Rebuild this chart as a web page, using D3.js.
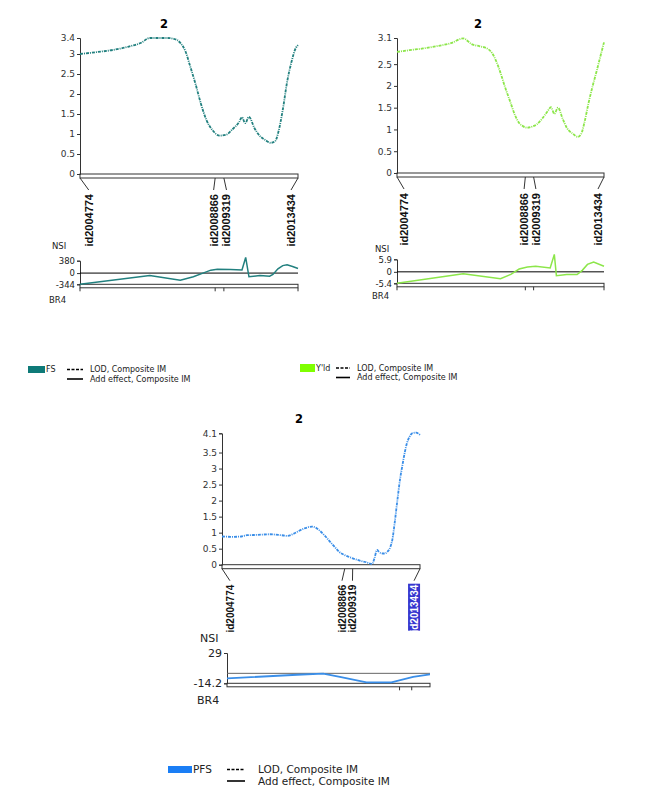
<!DOCTYPE html>
<html>
<head>
<meta charset="utf-8">
<script src="https://cdn.jsdelivr.net/npm/d3@7/dist/d3.min.js"></script>
<style>
  body { margin: 0; background: #fff; }
  text { fill: #222; }
</style>
</head>
<body>
<svg id="chart" width="647" height="797"></svg>
<script>
// marker names and their positions along the linkage group (percent of length)
const markers = ["id2004774", "id2008866", "id2009319", "id2013434"];
const markerPos = [0, 62, 66, 100];
const labelPos = [4, 61.3, 67.2, 96.8];

// FS trait
const fsLodPos = [0, 8, 15, 22, 28, 32, 40, 43, 46, 48.5, 50.5, 53, 55.5, 58, 61, 64, 67, 70, 73, 74.3, 75.8, 77.5, 80, 82.5, 85, 87.5, 89.5, 91, 93, 95, 97, 99, 100];
const fsLod    = [3.0, 3.05, 3.1, 3.18, 3.28, 3.4, 3.4, 3.38, 3.28, 3.05, 2.7, 2.25, 1.75, 1.35, 1.08, 0.96, 0.98, 1.12, 1.3, 1.42, 1.27, 1.43, 1.15, 0.95, 0.85, 0.78, 0.82, 1.05, 1.6, 2.3, 2.8, 3.15, 3.22];
const fsEffPos = [0, 32, 46, 52, 56.4, 60, 63, 69, 74.3, 76, 77.5, 82.5, 87, 88.5, 90.8, 93, 95, 97.5, 100];
const fsEff    = [-344, -76, -217, -110, 0, 90, 120, 113, 93, 480, -113, -76, -96, -40, 130, 230, 253, 200, 141];
const fsLodTicks = [0, 0.5, 1, 1.5, 2, 2.5, 3, 3.4];
const fsEffTicks = [-344, 0, 380];

// Y'ld trait
const yldLodPos = [0, 6, 12.6, 20, 26, 32, 36, 40, 43.5, 46, 48, 50, 52, 54.6, 57, 59, 61, 63, 65.5, 67.6, 70, 72.5, 74.4, 76, 77.8, 80, 82, 85, 87.4, 89, 90.5, 92.5, 94.7, 96.5, 98, 100];
const yldLod    = [2.78, 2.82, 2.86, 2.92, 2.98, 3.09, 2.96, 2.91, 2.86, 2.75, 2.56, 2.3, 2.0, 1.65, 1.33, 1.15, 1.07, 1.04, 1.07, 1.12, 1.24, 1.4, 1.51, 1.36, 1.5, 1.25, 1.04, 0.9, 0.83, 0.9, 1.15, 1.6, 2.03, 2.35, 2.63, 3.0];
const yldEffPos = [0, 32, 50, 55, 59, 63, 67, 74, 76, 77, 82, 87, 89.5, 92, 95, 100];
const yldEff    = [-5.4, -0.9, -3.2, -1.2, 1.3, 2.3, 2.6, 1.8, 8.2, -1.8, -1.3, -1.3, 0.7, 3.5, 4.6, 2.6];
const yldLodTicks = [0, 0.5, 1, 1.5, 2, 2.5, 3.1];
const yldEffTicks = [-5.4, 0, 5.9];

// PFS trait
const pfsLodPos = [0, 5, 9, 12.6, 18, 24, 30, 33, 36, 39, 42, 45.5, 47.5, 49, 52, 54.5, 57, 59, 62, 66, 70, 73, 75.8, 77, 78.3, 79.3, 80.3, 82, 83.5, 85, 86, 87.2, 88.4, 90, 91, 92.3, 93.4, 94.8, 96, 98, 100];
const pfsLod    = [0.88, 0.87, 0.875, 0.92, 0.93, 0.95, 0.92, 0.9, 0.96, 1.06, 1.14, 1.19, 1.15, 1.08, 0.9, 0.72, 0.55, 0.41, 0.3, 0.2, 0.12, 0.075, 0.02, 0.2, 0.46, 0.4, 0.36, 0.35, 0.4, 0.55, 0.77, 1.3, 1.92, 2.7, 3.06, 3.5, 3.79, 4.0, 4.1, 4.12, 4.05];
const pfsEffPos = [0, 34.5, 47.4, 55.6, 68.7, 81, 91.7, 100];
const pfsEff    = [-7.2, -2, -0.5, -4.9, -13, -13, -4.9, -1.4];
const pfsLodTicks = [0, 0.5, 1, 1.5, 2, 2.5, 3, 3.5, 4.1];
const pfsEffTicks = [-14.2, 29];
const pfsBarTicks = [85, 91];

const svg = d3.select('#chart');
svg.append('rect').attr('width', 647).attr('height', 797).attr('fill', '#fff');

let drawPanel = function (svg, p) {
    let g = svg.append('g');
    let x = d3.scaleLinear().domain([0, 100]).range([p.x0, p.x1]);
    let y = d3.scaleLinear().domain([0, p.lodMax]).range([p.y0, p.yTop]);

    // title
    g.append('text')
        .attr('x', p.titleX).attr('y', p.yTop - 10)
        .attr('text-anchor', 'middle')
        .style('font', 'bold 11.5px "DejaVu Sans"')
        .style('fill', '#000')
        .text('2');

    // LOD y axis
    let ax = g.append('g')
        .attr('transform', `translate(${p.x0},0)`)
        .call(d3.axisLeft(y).tickValues(p.lodTicks).tickSize(3).tickSizeOuter(3).tickFormat(d => d));
    ax.selectAll('path, line').attr('stroke', '#333');
    ax.selectAll('text').attr('x', -5).style('font', '9px "DejaVu Sans"').style('fill', '#333');

    // chromosome bar under the LOD plot
    g.append('rect')
        .attr('x', p.x0).attr('y', p.y0)
        .attr('width', p.x1 - p.x0).attr('height', 4)
        .attr('fill', 'none').attr('stroke', '#333');

    // marker leaders and labels
    let lab = g.append('g');
    markers.forEach(function (m, i) {
        let lx = x(p.labelPos[i]);
        lab.append('line')
            .attr('x1', x(markerPos[i])).attr('y1', p.y0 + 4)
            .attr('x2', lx).attr('y2', p.y0 + 16)
            .attr('stroke', '#333');
        if (i === p.highlight) {
            lab.append('rect')
                .attr('x', lx - 6).attr('y', p.y0 + 19)
                .attr('width', 12).attr('height', p.labelLen)
                .attr('fill', '#3636cf');
        }
        lab.append('text')
            .attr('transform', `translate(${lx},${p.y0 + 20}) rotate(-90)`)
            .attr('dy', '0.36em')
            .attr('text-anchor', 'end')
            .style('font', `bold ${p.labelFont}px "Liberation Sans"`)
            .style('fill', i === p.highlight ? '#fff' : '#111')
            .text(m);
    });

    // LOD curve
    g.append('path')
        .datum(d3.zip(p.lodPos, p.lod))
        .attr('fill', 'none')
        .attr('stroke', p.color)
        .attr('stroke-width', 1.8)
        .attr('stroke-dasharray', '3,1,1,1')
        .attr('d', d3.line().x(d => x(d[0])).y(d => y(d[1])).curve(d3.curveMonotoneX));

    // additive effect panel
    let ex = d3.scaleLinear().domain([0, 100]).range([p.ex0, p.ex1]);
    let ey = d3.scaleLinear().domain([p.effMin, p.effMax]).range([p.eyBot, p.eyTop]);

    g.append('text')
        .attr('x', p.nsiX).attr('y', p.eyTop - p.nsiGap)
        .style('font', `${p.smallFont}px "DejaVu Sans"`)
        .text('NSI');
    g.append('text')
        .attr('x', p.nsiX - 3).attr('y', p.eyBot + p.br4Gap)
        .style('font', `${p.smallFont}px "DejaVu Sans"`)
        .text('BR4');

    let eax = g.append('g')
        .attr('transform', `translate(${p.ex0},0)`)
        .call(d3.axisLeft(ey).tickValues(p.effTicks).tickSize(3).tickSizeOuter(3).tickFormat(d => d));
    eax.selectAll('path, line').attr('stroke', '#333');
    eax.selectAll('text').attr('x', -5).style('font', `${p.smallFont}px "DejaVu Sans"`).style('fill', '#222');

    g.append('line')
        .attr('x1', p.ex0).attr('x2', p.ex1)
        .attr('y1', ey(0)).attr('y2', ey(0))
        .attr('stroke', p.zeroColor);
    g.append('rect')
        .attr('x', p.ex0).attr('y', p.eyBot)
        .attr('width', p.ex1 - p.ex0).attr('height', 3.5)
        .attr('fill', 'none').attr('stroke', '#333');
    g.selectAll(null)
        .data(p.barTicks)
        .enter().append('line')
        .attr('x1', d => ex(d)).attr('x2', d => ex(d))
        .attr('y1', p.eyBot + 3.5).attr('y2', p.eyBot + 7)
        .attr('stroke', '#333');

    g.append('path')
        .datum(d3.zip(p.effPos, p.eff))
        .attr('fill', 'none')
        .attr('stroke', p.color)
        .attr('stroke-width', p.effWidth)
        .attr('d', d3.line().x(d => ex(d[0])).y(d => ey(d[1])));

    // legend
    let L = p.legend;
    let lg = svg.append('g').style('font', `${L.fs}px "DejaVu Sans"`);
    lg.append('rect')
        .attr('x', L.x).attr('y', L.y - L.sh / 2)
        .attr('width', L.sw).attr('height', L.sh)
        .attr('fill', p.swatch);
    lg.append('text').attr('x', L.x + L.sw + 1).attr('y', L.y).attr('dy', '0.35em').text(p.name);
    lg.append('line')
        .attr('x1', L.lx0).attr('x2', L.lx1).attr('y1', L.y).attr('y2', L.y)
        .attr('stroke', '#000').attr('stroke-width', 1.4).attr('stroke-dasharray', '3,1.5');
    lg.append('text').attr('x', L.tx).attr('y', L.y).attr('dy', '0.35em').text('LOD, Composite IM');
    lg.append('line')
        .attr('x1', L.lx0).attr('x2', L.lx1).attr('y1', L.y + L.gap).attr('y2', L.y + L.gap)
        .attr('stroke', '#000').attr('stroke-width', 1.6);
    lg.append('text').attr('x', L.tx).attr('y', L.y + L.gap).attr('dy', '0.35em').text('Add effect, Composite IM');
};

drawPanel(svg, {
    name: 'FS', color: '#22807f', swatch: '#0e7a78',
    x0: 80, x1: 298, y0: 174, yTop: 38, titleX: 164,
    lodMax: 3.4, lodTicks: fsLodTicks, lodPos: fsLodPos, lod: fsLod,
    labelPos: labelPos, labelFont: 11, labelLen: 52, highlight: -1,
    ex0: 80, ex1: 298, eyTop: 260.7, eyBot: 284.3,
    effMin: -344, effMax: 380, effTicks: fsEffTicks, effPos: fsEffPos, eff: fsEff,
    barTicks: markerPos, zeroColor: '#000', effWidth: 1.5,
    nsiX: 52, nsiGap: 12, br4Gap: 19, smallFont: 8.5,
    legend: { x: 28, y: 369.5, sw: 17, sh: 7, lx0: 67, lx1: 83, tx: 90, gap: 9.5, fs: 8 }
});

drawPanel(svg, {
    name: "Y'ld", color: '#8ce64a', swatch: '#7fff00',
    x0: 397, x1: 604, y0: 173, yTop: 38, titleX: 478,
    lodMax: 3.1, lodTicks: yldLodTicks, lodPos: yldLodPos, lod: yldLod,
    labelPos: [3.4, 61.4, 67.1, 97.1], labelFont: 11, labelLen: 52, highlight: -1,
    ex0: 397, ex1: 604, eyTop: 259.3, eyBot: 283.3,
    effMin: -5.4, effMax: 5.9, effTicks: yldEffTicks, effPos: yldEffPos, eff: yldEff,
    barTicks: markerPos, zeroColor: '#000', effWidth: 1.5,
    nsiX: 375, nsiGap: 7, br4Gap: 16, smallFont: 8.5,
    legend: { x: 300, y: 368, sw: 15, sh: 8, lx0: 336, lx1: 350, tx: 357, gap: 9.5, fs: 8 }
});

drawPanel(svg, {
    name: 'PFS', color: '#3a8ee8', swatch: '#1a7ef5',
    x0: 222, x1: 420, y0: 564.7, yTop: 433.3, titleX: 299,
    lodMax: 4.1, lodTicks: pfsLodTicks, lodPos: pfsLodPos, lod: pfsLod,
    labelPos: [4, 60.6, 65.9, 97], labelFont: 10, labelLen: 47, highlight: 3,
    ex0: 227, ex1: 430, eyTop: 653, eyBot: 683.3,
    effMin: -14.2, effMax: 29, effTicks: pfsEffTicks, effPos: pfsEffPos, eff: pfsEff,
    barTicks: pfsBarTicks, zeroColor: '#666', effWidth: 1.8,
    nsiX: 200, nsiGap: 11, br4Gap: 21, smallFont: 11,
    legend: { x: 168, y: 769.5, sw: 24, sh: 7, lx0: 227, lx1: 245, tx: 258, gap: 11.5, fs: 10.5 }
});
</script>
</body>
</html>
